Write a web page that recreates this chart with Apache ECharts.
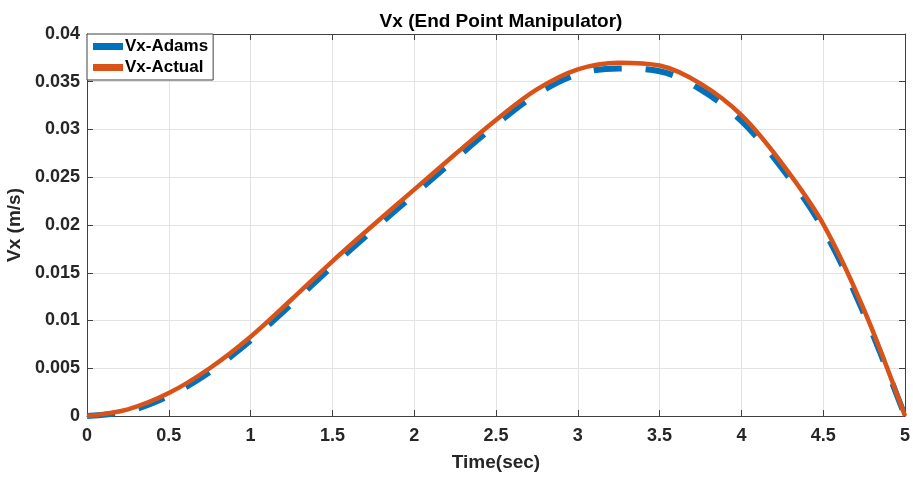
<!DOCTYPE html>
<html>
<head>
<meta charset="utf-8">
<script src="https://cdn.jsdelivr.net/npm/echarts@6/dist/echarts.min.js"></script>
<style>html,body{margin:0;padding:0;background:#fff;}#c{width:913px;height:477px;}</style>
</head>
<body>
<div id="c"></div>
<script>
const times = [0, 0.25, 0.5, 0.75, 1, 1.25, 1.5, 1.75, 2, 2.25, 2.5, 2.75, 3, 3.25, 3.5, 3.75, 4, 4.25, 4.5, 4.75, 5];
const vxActual = [0, 0.0007, 0.0024, 0.0050, 0.0083, 0.0122, 0.0162, 0.0200, 0.0237, 0.0274, 0.0310, 0.0342, 0.0363, 0.0370, 0.0367, 0.0348, 0.0315, 0.0264, 0.0201, 0.0111, 0];
const vxAdams  = [0, 0.0005, 0.0021, 0.0046, 0.0079, 0.0117, 0.0157, 0.0195, 0.0232, 0.0269, 0.0305, 0.0337, 0.0358, 0.0364, 0.0361, 0.0342, 0.0309, 0.0259, 0.0196, 0.0107, 0];
const xTicks = [0, 0.5, 1, 1.5, 2, 2.5, 3, 3.5, 4, 4.5, 5];
const yTicks = [0, 0.005, 0.01, 0.015, 0.02, 0.025, 0.03, 0.035, 0.04];

const pairs = (ys) => times.map((t, i) => [t, ys[i]]);
const FONT = '"Liberation Sans", Arial, Helvetica, sans-serif';
const TXT = '#262626';
const AX = '#404040';

const chart = echarts.init(document.getElementById('c'), null, {renderer: 'canvas'});
chart.setOption({
  animation: false,
  backgroundColor: '#fff',
  title: {
    text: 'Vx (End Point Manipulator)',
    left: 496, textAlign: 'center', top: 7,
    textStyle: {fontFamily: FONT, fontSize: 19, fontWeight: 'bold', color: '#000'}
  },
  grid: {left: 87, top: 34, width: 818, height: 382, show: false, containLabel: false, outerBoundsMode: 'none'},
  legend: {
    left: 87, top: 34, orient: 'vertical',
    itemWidth: 30, itemHeight: 7, itemGap: 4,
    padding: [4, 5, 4, 6],
    backgroundColor: '#fff', borderColor: AX, borderWidth: 1,
    icon: 'rect',
    textStyle: {fontFamily: FONT, fontSize: 17, fontWeight: 'bold', color: '#000', padding: [0,0,0,-3]},
    data: ['Vx-Adams', 'Vx-Actual']
  },
  xAxis: [{
    type: 'value', min: 0, max: 5, interval: 0.5,
    name: 'Time(sec)', nameLocation: 'middle', nameGap: 37,
    nameTextStyle: {fontFamily: FONT, fontSize: 19, fontWeight: 'bold', color: TXT},
    axisLine: {show: true, onZero: false, lineStyle: {color: AX, width: 1}},
    axisTick: {show: true, inside: true, length: 6, lineStyle: {color: AX}},
    axisLabel: {fontFamily: FONT, fontSize: 18, fontWeight: 'bold', color: TXT, margin: 11,
      formatter: (v) => xTicks.includes(v) ? String(v) : ''},
    splitLine: {show: true, lineStyle: {color: '#e3e3e3', width: 1}}
  }, {
    type: 'value', position: 'top', min: 0, max: 5, interval: 0.5,
    axisLine: {show: true, onZero: false, lineStyle: {color: AX, width: 1}},
    axisTick: {show: true, inside: true, length: 6, lineStyle: {color: AX}},
    axisLabel: {show: false}, splitLine: {show: false}
  }],
  yAxis: [{
    type: 'value', min: 0, max: 0.04, interval: 0.005,
    name: 'Vx (m/s)', nameLocation: 'middle', nameGap: 58, nameRotate: 90,
    nameTextStyle: {fontFamily: FONT, fontSize: 19, fontWeight: 'bold', color: TXT},
    axisLine: {show: true, onZero: false, lineStyle: {color: AX, width: 1}},
    axisTick: {show: true, inside: true, length: 6, lineStyle: {color: AX}},
    axisLabel: {fontFamily: FONT, fontSize: 18, fontWeight: 'bold', color: TXT, margin: 7,
      formatter: (v) => { const r = Math.round(v * 1000) / 1000; return yTicks.includes(r) ? String(r) : ''; }},
    splitLine: {show: true, lineStyle: {color: '#e3e3e3', width: 1}}
  }, {
    type: 'value', position: 'right', min: 0, max: 0.04, interval: 0.005,
    axisLine: {show: true, onZero: false, lineStyle: {color: AX, width: 1}},
    axisTick: {show: true, inside: true, length: 6, lineStyle: {color: AX}},
    axisLabel: {show: false}, splitLine: {show: false}
  }],
  series: [{
    name: 'Vx-Adams', type: 'line', smooth: 0.35, showSymbol: false, symbol: 'none',
    data: pairs(vxAdams),
    itemStyle: {color: '#0072BD'},
    lineStyle: {color: '#0072BD', width: 6, type: [28, 24], cap: 'butt'},
    z: 2
  }, {
    name: 'Vx-Actual', type: 'line', smooth: 0.35, showSymbol: false, symbol: 'none',
    data: pairs(vxActual),
    itemStyle: {color: '#D95319'},
    lineStyle: {color: '#D95319', width: 4.5},
    z: 3
  }]
});
</script>
</body>
</html>
